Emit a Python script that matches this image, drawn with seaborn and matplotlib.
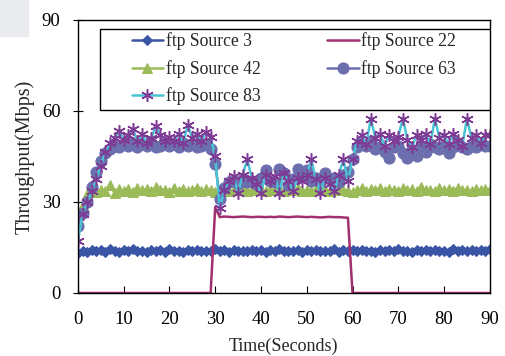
import matplotlib
matplotlib.use("Agg")
import matplotlib.pyplot as plt
from matplotlib.patches import Rectangle
import seaborn as sns
import pandas as pd

# time axis (seconds)
time_s = list(range(91))

src3 = [13.2, 14.0, 13.6, 14.3, 13.8, 14.1, 13.5, 14.4, 13.9, 13.6,
        14.2, 13.8, 14.5, 13.7, 14.0, 13.6, 14.3, 13.9, 14.1, 13.5,
        14.4, 13.8, 14.0, 13.6, 14.2, 13.9, 14.3, 13.7, 14.0, 13.8,
        14.6, 13.9, 14.1, 13.6, 14.2, 13.8, 14.0, 13.7, 14.3, 13.9,
        14.1, 13.6, 14.2, 13.8, 14.4, 13.7, 14.0, 13.9, 14.2, 13.6,
        14.3, 13.8, 14.1, 13.7, 14.0, 13.9, 14.4, 13.6, 14.1, 13.8,
        14.2, 13.7, 14.3, 13.9, 14.0, 13.6, 14.2, 13.8, 14.1, 13.7,
        14.4, 13.9, 14.0, 13.6, 14.3, 13.8, 14.1, 13.7, 14.2, 13.9,
        14.0, 13.6, 14.4, 13.8, 14.1, 13.7, 14.2, 13.9, 14.3, 13.8,
        14.5]

src22 = [0] * 30 + [
        28.3, 25.0, 25.2, 25.1, 25.0, 25.1, 25.2, 25.1, 25.0, 25.1,
        25.1, 25.0, 25.1, 25.0, 25.2, 25.1, 25.0, 25.1, 25.2, 25.1,
        25.0, 25.1, 25.0, 24.9, 25.0, 25.1, 25.0, 25.0, 24.9, 24.8] + [0] * 31

src42 = [24.5, 29.0, 32.5, 33.8, 33.2, 34.0, 33.5, 35.5, 33.0, 34.2,
         33.6, 34.3, 33.4, 34.6, 33.8, 34.2, 33.5, 34.8, 33.9, 34.1,
         33.4, 34.5, 33.7, 34.3, 33.6, 34.0, 34.7, 33.5, 34.2, 33.8,
         33.2, 33.0, 34.2, 33.5, 34.1, 33.8, 34.4, 33.6, 34.0, 33.9,
         34.3, 33.5, 34.1, 33.8, 34.5, 33.6, 34.2, 33.9, 34.6, 33.7,
         34.0, 33.6, 34.3, 33.8, 34.1, 33.5, 34.4, 33.9, 34.0, 33.7,
         33.2, 33.9, 34.5, 33.6, 34.2, 33.8, 34.7, 33.5, 34.3, 34.0,
         33.7, 34.5, 33.8, 34.2, 33.6, 34.8, 33.9, 34.1, 33.5, 34.6,
         33.8, 34.2, 33.6, 34.7, 33.9, 34.0, 33.5, 34.4, 33.8, 34.3,
         34.1]

src63 = [22.0, 26.5, 30.0, 35.0, 40.0, 43.5, 46.0, 47.5, 48.5, 48.0,
         49.0, 48.5, 49.5, 48.0, 49.0, 48.5, 49.5, 48.0, 48.5, 49.0,
         48.5, 49.0, 48.0, 49.5, 48.5, 49.0, 48.0, 48.5, 49.0, 47.5,
         42.5, 31.0, 34.5, 36.5, 37.0, 36.0, 37.5, 36.5, 37.0, 36.0,
         38.0, 40.5, 37.0, 36.5, 41.0, 39.5, 35.5, 37.5, 41.0, 38.5,
         40.5, 37.0, 38.0, 36.5, 39.5, 37.5, 38.0, 36.5, 39.0, 40.0,
         44.0, 48.0, 49.0, 48.5, 50.0, 47.5, 48.0, 46.5, 44.5, 48.0,
         48.5, 46.0, 44.5, 47.0, 45.0, 48.5, 46.5, 49.0, 48.0, 47.5,
         48.5, 46.0, 48.0, 49.5, 48.0, 47.5, 48.5, 48.0, 49.0, 48.5,
         48.5]

src83 = [17.0, 26.0, 30.0, 33.5, 37.5, 42.0, 46.5, 49.5, 51.0, 53.5,
         50.5, 52.0, 54.0, 50.0, 52.5, 49.5, 51.0, 55.0, 52.0, 50.0,
         51.5, 50.0, 52.5, 49.5, 55.5, 51.0, 52.5, 50.0, 53.0, 51.5,
         45.0, 28.0, 34.0, 37.0, 38.5, 33.0, 39.0, 44.0, 38.0, 36.0,
         33.0, 39.0, 37.0, 38.5, 33.0, 39.5, 37.0, 33.5, 38.0, 37.0,
         39.0, 44.0, 37.5, 33.0, 38.0, 36.0, 33.5, 39.0, 44.0, 37.0,
         44.0, 50.0, 52.0, 49.0, 57.5, 51.0, 52.5, 48.5, 52.0, 50.0,
         51.5, 57.5, 50.5, 48.0, 52.0, 50.5, 52.5, 49.0, 57.5, 51.0,
         52.0, 49.0, 52.5, 50.5, 48.5, 57.5, 51.0, 52.0, 49.5, 52.0,
         52.0]

labels = ["ftp Source 3", "ftp Source 22", "ftp Source 42",
          "ftp Source 63", "ftp Source 83"]

sns.set_style("ticks")
plt.rcParams["font.family"] = ["Liberation Serif", "DejaVu Serif"]

fig = plt.figure(figsize=(5.06, 3.56), dpi=100)
ax = fig.add_axes([0.154, 0.177, 0.814, 0.767])

# faint grey scan artefact in the top-left corner
fig.patches.append(Rectangle((0, 0.9), 0.055, 0.1, transform=fig.transFigure,
                             color="#e9ebef", zorder=0))

styles = [
    dict(color="#3A55A6", marker="D", markersize=5, mfc="#3A55A6", mec="#3A55A6"),
    dict(color="#A3306E", marker=None),
    dict(color="#9BBB59", marker="^", markersize=7, mfc="#9BBB59", mec="#9BBB59"),
    dict(color="#6C6FAD", marker="o", markersize=8, mfc="#6C6FAD", mec="#6C6FAD"),
    dict(color="#4BC3D6", marker=(6, 2, 0), markersize=9, mfc="#7E3A94",
         mec="#7E3A94", mew=1.1),
]
series = [src3, src22, src42, src63, src83]

lines = []
for vals, lab, st in zip(series, labels, styles):
    df = pd.DataFrame({"t": time_s, "v": vals})
    sns.lineplot(data=df, x="t", y="v", ax=ax, label=lab, linewidth=1.8, **st)
    lines.append(ax.lines[-1])

ax.set_xlim(0, 90)
ax.set_ylim(0, 90)
ax.set_xticks(range(0, 91, 10))
ax.set_yticks([0, 30, 60, 90])
ax.tick_params(axis="x", direction="in", length=5, labelsize=13.5, pad=13,
               colors="black")
ax.tick_params(axis="y", direction="inout", length=7, labelsize=13.5, pad=9,
               colors="black")
for sp in ax.spines.values():
    sp.set_color("black")
    sp.set_linewidth(1.0)

ax.set_xlabel("Time(Seconds)", fontsize=13, labelpad=7)
ax.set_ylabel("Throughput(Mbps)", fontsize=14.5, labelpad=5)

# legend box drawn separately so padding matches the original
ax.add_patch(Rectangle((0.053, 0.67), 0.947, 0.297, transform=ax.transAxes,
                       facecolor="white", edgecolor="black", lw=1.0, zorder=5))

# legend filled row-wise like the original (two columns)
order = [0, 2, 4, 1, 3]
leg = ax.legend([lines[i] for i in order], [labels[i] for i in order],
                ncol=2, loc="upper left", bbox_to_anchor=(0.131, 0.955),
                fontsize=12.7, frameon=False, handlelength=1.76,
                handletextpad=0.15, labelspacing=0.55, borderpad=0,
                borderaxespad=0, columnspacing=3.8)
leg.set_zorder(6)

fig.savefig("out.png", dpi=100, facecolor="white")
